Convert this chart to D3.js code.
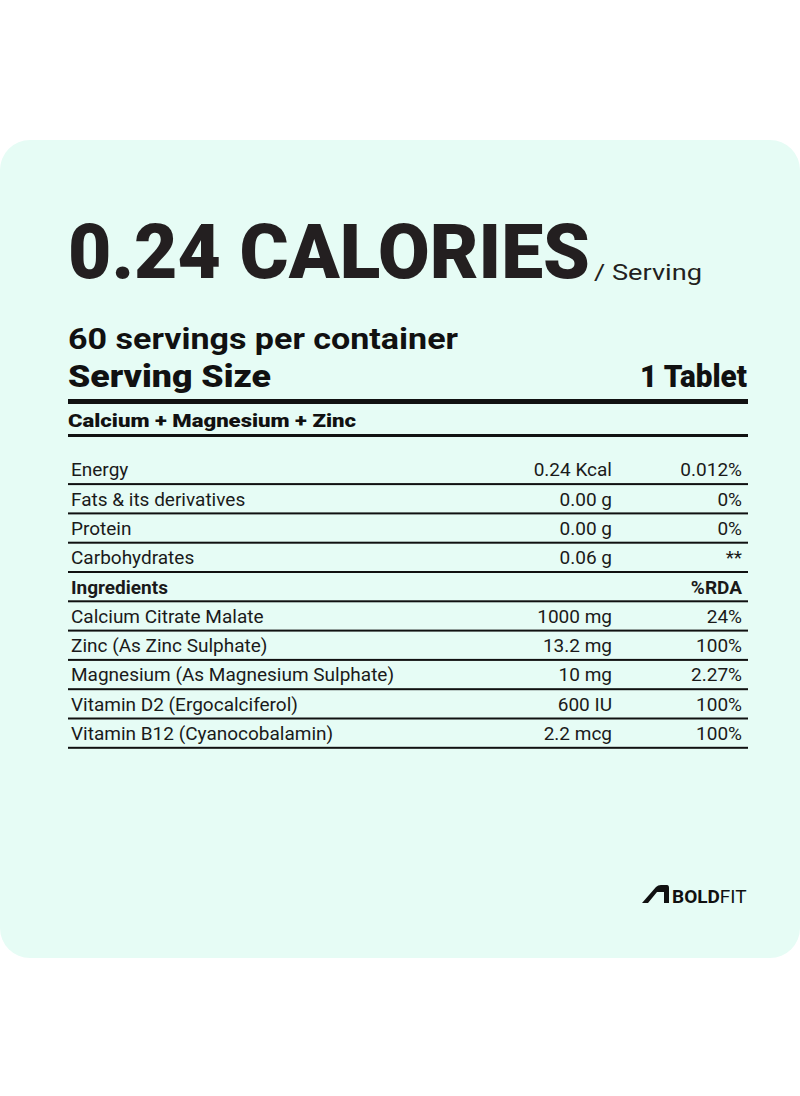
<!DOCTYPE html>
<html><head><meta charset="utf-8">
<script src="https://cdn.jsdelivr.net/npm/d3@7"></script>
<style>body{margin:0;background:#fff}svg{display:block}</style>
</head><body><svg id="c" width="800" height="1096"></svg>
<script>
const title = "0.24 CALORIES";
const titleSub = "/ Serving";
const servings = "60 servings per container";
const servingSize = ["Serving Size", "1 Tablet"];
const productName = "Calcium + Magnesium + Zinc";
const rowNames = ["Energy","Fats & its derivatives","Protein","Carbohydrates","Ingredients","Calcium Citrate Malate","Zinc (As Zinc Sulphate)","Magnesium (As Magnesium Sulphate)","Vitamin D2 (Ergocalciferol)","Vitamin B12 (Cyanocobalamin)"];
const rowAmounts = ["0.24 Kcal","0.00 g","0.00 g","0.06 g","","1000 mg","13.2 mg","10 mg","600 IU","2.2 mcg"];
const rowPercents = ["0.012%","0%","0%","**","%RDA","24%","100%","2.27%","100%","100%"];
const boldRows = ["Ingredients"];

const svg = d3.select("#c");
const ink = "#231f20";
svg.append("rect").attr("x",0).attr("y",140).attr("width",800).attr("height",818).attr("rx",30).attr("fill","#e6fcf5");

svg.append("text").attr("x",68).attr("y",278).attr("font-family","Roboto").attr("font-weight",900)
  .attr("font-size",76).attr("fill",ink).attr("textLength",522).attr("lengthAdjust","spacingAndGlyphs").text(title);
svg.append("text").attr("x",594).attr("y",280).attr("font-family","Roboto").attr("font-size",22)
  .attr("fill",ink).attr("textLength",108).attr("lengthAdjust","spacingAndGlyphs").text(titleSub);

svg.append("text").attr("x",68).attr("y",349).attr("font-family","Roboto").attr("font-weight",700)
  .attr("font-size",30).attr("fill","#111").attr("textLength",390).attr("lengthAdjust","spacingAndGlyphs").text(servings);
svg.append("text").attr("x",68).attr("y",387).attr("font-family","Roboto").attr("font-weight",900)
  .attr("font-size",31).attr("fill","#111").attr("textLength",203).attr("lengthAdjust","spacingAndGlyphs").text(servingSize[0]);
svg.append("text").attr("x",747).attr("y",387).attr("text-anchor","end").attr("font-family","Roboto").attr("font-weight",900)
  .attr("font-size",31).attr("fill","#111").attr("textLength",107).attr("lengthAdjust","spacingAndGlyphs").text(servingSize[1]);
svg.append("rect").attr("x",68).attr("y",399).attr("width",680).attr("height",5).attr("fill","#111");
svg.append("text").attr("x",68).attr("y",427).attr("font-family","Roboto").attr("font-weight",900)
  .attr("font-size",19).attr("fill","#111").attr("textLength",288).attr("lengthAdjust","spacingAndGlyphs").text(productName);
svg.append("rect").attr("x",68).attr("y",434).attr("width",680).attr("height",3).attr("fill","#111");

const y = d3.scaleBand().domain(rowNames).range([455,748]);
const g = svg.append("g").attr("font-family","Roboto").attr("font-size",19).attr("fill","#1a1a1a");
rowNames.forEach((n,i)=>{
  const yb = y(n)+y.bandwidth();
  const b = boldRows.includes(n);
  g.append("text").attr("x",71).attr("y",yb-8).attr("font-weight",b?700:400).text(n);
  g.append("text").attr("x",612).attr("y",yb-8).attr("text-anchor","end").text(rowAmounts[i]);
  g.append("text").attr("x",742).attr("y",yb-8).attr("text-anchor","end").attr("font-weight",b?700:400).text(rowPercents[i]);
  g.append("rect").attr("x",68).attr("y",yb-1.2).attr("width",680).attr("height",2).attr("fill","#111");
});

const lg = svg.append("g").attr("transform","translate(642,885)");
lg.append("path").attr("d","M0,18 L14,2 Q16,0 19,0 L25,0 Q27,0 27,3 L27,18 L22,18 L22,7 L15,7 L6,18 Z").attr("fill","#111");
const lt = lg.append("text").attr("x",30).attr("y",17.5).attr("font-family","Roboto").attr("font-size",19).attr("fill","#111");
lt.append("tspan").attr("font-weight",700).text("BOLD");
lt.append("tspan").attr("font-weight",400).text("FIT");
</script></body></html>
